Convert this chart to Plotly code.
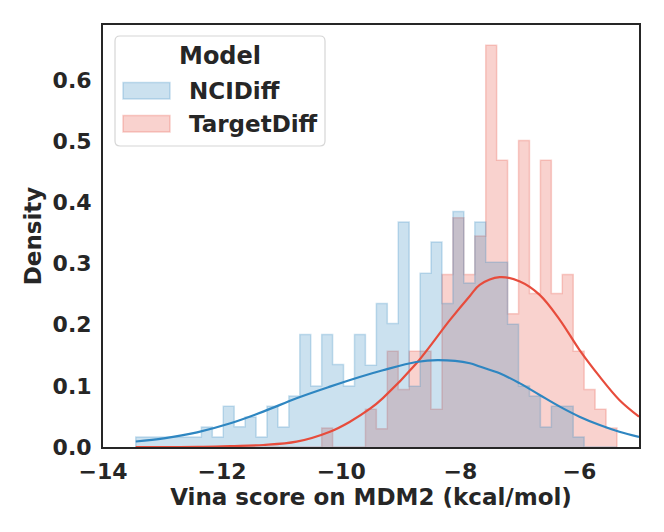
import numpy as np
import plotly.graph_objects as go

# shared histogram bins (seaborn common_bins): 44 bins between these limits
bin_lo = -13.45
bin_hi = -5.37
n_bins = 44

# step histogram heights (density), one value per bin
ncidiff_density = [
    0.0164, 0.0164, 0.0164, 0.0164, 0.0164, 0.0164, 0.0327, 0.0164, 0.0666, 0.033,
    0.049, 0.0164, 0.0666, 0.0327, 0.0835, 0.184, 0.0998, 0.184, 0.1347, 0.0998,
    0.184, 0.1337, 0.2347, 0.202, 0.368, 0.0993, 0.284, 0.335, 0.2347, 0.385,
    0.268, 0.368, 0.302, 0.302, 0.2008, 0.0998, 0.0835, 0.0327, 0.0666, 0.0666,
    0.0164, 0.0, 0.0, 0.0,
]
targetdiff_density = [
    0.0, 0.0, 0.0, 0.0, 0.0, 0.0, 0.0, 0.0, 0.0, 0.0,
    0.0, 0.0, 0.0, 0.0, 0.0, 0.0, 0.0, 0.031, 0.0, 0.0,
    0.0, 0.0617, 0.030, 0.1566, 0.094, 0.1566, 0.1566, 0.0617, 0.282, 0.375,
    0.282, 0.345, 0.657, 0.469, 0.218, 0.501, 0.251, 0.469, 0.251, 0.282,
    0.1566, 0.094, 0.0617, 0.031,
]

# smooth density curves
ncidiff_kde_x = [-13.45, -12.98, -12.42, -11.86, -11.31, -10.75, -10.19, -9.69, -9.30,
                 -8.74, -8.37, -7.84, -7.675, -7.34, -7.0, -6.668, -6.33, -6.0,
                 -5.66, -5.33, -5.0]
ncidiff_kde_y = [0.009, 0.0142, 0.024, 0.0388, 0.0578, 0.0797, 0.0987, 0.1145, 0.1255,
                 0.139, 0.142, 0.137, 0.1315, 0.1206, 0.104, 0.0851, 0.066, 0.0496,
                 0.036, 0.025, 0.0165]
targetdiff_kde_x = [-13.45, -12.4, -11.86, -11.31, -10.75, -10.19, -9.86, -9.51, -9.30,
                    -8.74, -8.18, -7.84, -7.675, -7.34, -7.0, -6.668, -6.33, -6.0,
                    -5.66, -5.33, -5.0]
targetdiff_kde_y = [0.0, 0.0003, 0.0016, 0.0033, 0.0087, 0.025, 0.041, 0.063, 0.080,
                    0.1365, 0.207, 0.247, 0.265, 0.2777, 0.2706, 0.2488, 0.208, 0.1588,
                    0.115, 0.077, 0.0496]

legend_title = "Model"
legend_labels = ["NCIDiff", "TargetDiff"]

BLUE = "46,134,193"
RED = "231,76,60"
TEXT = "#262626"

# plot area in window pixels (the page body adds an 8px margin)
PX_L, PX_R, PX_T, PX_B = 103, 639, 25, 447


def px2x(px):
    return (px - PX_L) / (PX_R - PX_L)


def px2y(py):
    return (PX_B - py) / (PX_B - PX_T)


def step_trace(edges, dens, name, rgb):
    # outline of a step histogram that drops to zero at both ends
    xs = [edges[0]] + list(edges) + [edges[-1]]
    ys = [0.0] + list(dens) + [dens[-1], 0.0]
    return go.Scatter(
        x=xs, y=ys, name=name, mode="lines", line_shape="hv",
        line=dict(color=f"rgba({rgb},0.25)", width=1.5),
        fill="tozeroy", fillcolor=f"rgba({rgb},0.25)",
        hoverinfo="skip", showlegend=False,
    )


edges = np.linspace(bin_lo, bin_hi, n_bins + 1)

fig = go.Figure()
# seaborn draws the second hue level first
fig.add_trace(step_trace(edges, targetdiff_density, "TargetDiff", RED))
fig.add_trace(step_trace(edges, ncidiff_density, "NCIDiff", BLUE))
fig.add_trace(go.Scatter(x=targetdiff_kde_x, y=targetdiff_kde_y, mode="lines",
                         line=dict(color=f"rgb({RED})", width=2.2, shape="spline"),
                         showlegend=False))
fig.add_trace(go.Scatter(x=ncidiff_kde_x, y=ncidiff_kde_y, mode="lines",
                         line=dict(color=f"rgb({BLUE})", width=2.2, shape="spline"),
                         showlegend=False))

# legend drawn by hand, matplotlib style (rounded frame, wide patches)
x0, x1, y0, y1 = px2x(115), px2x(325), px2y(36), px2y(146)
rx, ry = 5 / (PX_R - PX_L), 5 / (PX_B - PX_T)
frame = (f"M{x0 + rx},{y0} L{x1 - rx},{y0} Q{x1},{y0} {x1},{y0 - ry} "
         f"L{x1},{y1 + ry} Q{x1},{y1} {x1 - rx},{y1} L{x0 + rx},{y1} "
         f"Q{x0},{y1} {x0},{y1 + ry} L{x0},{y0 - ry} Q{x0},{y0} {x0 + rx},{y0} Z")
shapes = [dict(type="path", xref="paper", yref="paper", path=frame,
               fillcolor="rgba(255,255,255,0.8)", line=dict(color="#d6d6d6", width=1.2))]
annotations = [dict(text=legend_title, xref="paper", yref="paper", x=px2x(220), y=px2y(56),
                    xanchor="center", yanchor="middle", showarrow=False,
                    font=dict(size=24, color=TEXT, weight="bold"))]
for label, rgb, (pt, pb) in zip(legend_labels, [BLUE, RED], [(82.5, 99), (115.5, 132)]):
    shapes.append(dict(type="rect", xref="paper", yref="paper",
                       x0=px2x(123), x1=px2x(170), y0=px2y(pb), y1=px2y(pt),
                       fillcolor=f"rgba({rgb},0.25)",
                       line=dict(color=f"rgba({rgb},0.25)", width=1.5)))
    annotations.append(dict(text=label, xref="paper", yref="paper",
                            x=px2x(187), y=px2y((pt + pb) / 2), xanchor="left",
                            yanchor="middle", showarrow=False,
                            font=dict(size=23, color=TEXT, weight="bold")))

fig.update_layout(
    width=648, height=516,
    margin=dict(l=PX_L - 8, r=664 - 16 - (PX_R - 8), t=PX_T - 8, b=516 - (PX_B - 8)),
    paper_bgcolor="white", plot_bgcolor="white",
    font=dict(family="DejaVu Sans", size=22, color=TEXT, weight="bold"),
    showlegend=False, shapes=shapes, annotations=annotations,
)
fig.update_xaxes(
    range=[-14, -5.0], dtick=2, tick0=-14, showgrid=False, zeroline=False,
    showline=True, mirror=True, linecolor=TEXT, linewidth=2, ticks="",
    ticklabelstandoff=4,
    title=dict(text="Vina score on MDM2 (kcal/mol)", standoff=3, font=dict(size=23)),
)
fig.update_yaxes(
    range=[0, 0.69], dtick=0.1, tick0=0, tickformat=".1f", showgrid=False,
    zeroline=False, showline=True, mirror=True, linecolor=TEXT, linewidth=2,
    ticks="", ticklabelstandoff=5,
    title=dict(text="Density", standoff=5, font=dict(size=23)),
)

fig.write_html("out.html")
